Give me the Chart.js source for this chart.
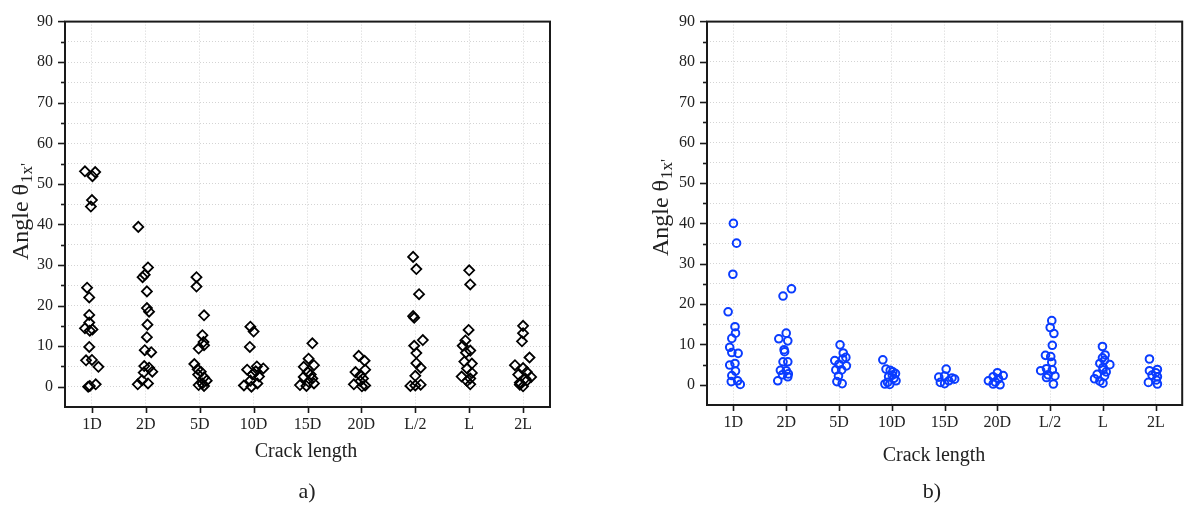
<!DOCTYPE html>
<html>
<head>
<meta charset="utf-8">
<script src="https://cdn.jsdelivr.net/npm/chart.js@4.4.1/dist/chart.umd.min.js"></script>
<style>
  body { margin: 0; background: #fff; }
  .panel { position: absolute; top: 0; width: 594px; height: 507px; }
</style>
</head>
<body>
<div class="panel" style="left:0"><canvas id="chartA" width="594" height="507"></canvas></div>
<div class="panel" style="left:594px"><canvas id="chartB" width="594" height="507"></canvas></div>
<script>
var categories = ['1D', '2D', '5D', '10D', '15D', '20D', 'L/2', 'L', '2L'];
var yTickValues = [0, 10, 20, 30, 40, 50, 60, 70, 80, 90];

// panel a) angle values per crack length
var leftValues = [
  [53.1, 52.9, 51.9, 46.0, 44.4, 24.4, 22.0, 17.7, 15.8, 14.4, 14.1, 13.8, 9.8, 6.5, 6.6, 4.9, 0.2, 0.0, 0.6],
  [39.4, 29.4, 27.6, 27.0, 23.5, 19.4, 18.5, 15.3, 12.2, 9.0, 8.5, 5.1, 4.7, 3.7, 3.5, 1.6, 0.6, 0.8],
  [27.0, 24.7, 17.6, 12.7, 11.0, 10.2, 9.4, 5.6, 4.3, 3.7, 3.0, 2.3, 1.5, 0.4, 0.2, 0.8],
  [14.8, 13.6, 9.8, 5.0, 4.5, 4.2, 3.8, 3.0, 2.5, 1.5, 0.8, 0.3, 0.0],
  [10.7, 6.9, 5.3, 4.9, 3.6, 3.0, 2.4, 2.0, 1.2, 0.8, 0.4, 0.2],
  [7.6, 6.4, 4.2, 3.6, 2.8, 2.0, 1.4, 0.6, 0.3, 0.1],
  [32.0, 29.0, 22.8, 17.4, 17.0, 11.5, 10.1, 8.3, 5.8, 4.7, 2.7, 0.2, 0.3, 0.5],
  [28.7, 25.2, 14.0, 11.4, 10.1, 8.9, 8.4, 6.2, 5.7, 4.5, 3.4, 2.5, 2.0, 1.4, 0.6],
  [15.0, 13.2, 11.2, 7.2, 5.3, 4.6, 3.6, 3.0, 2.4, 2.0, 1.5, 1.0, 0.5, 0.1]
];
// horizontal scatter of each point around its category (category units)
var leftJitter = [
  [-0.13, 0.06, 0.01, 0, -0.02, -0.09, -0.05, -0.05, -0.05, -0.13, 0.01, -0.04, -0.05, -0.11, 0.0, 0.12, -0.04, -0.07, 0.07],
  [-0.14, 0.04, -0.02, -0.06, 0.02, 0.02, 0.06, 0.03, 0.02, -0.02, 0.1, -0.03, 0.06, 0.12, -0.04, -0.07, -0.15, 0.04],
  [-0.06, -0.06, 0.08, 0.05, 0.07, 0.08, -0.02, -0.1, -0.04, 0.02, -0.03, 0.08, 0.13, -0.02, 0.08, 0.05],
  [-0.06, 0, -0.07, 0.06, 0.18, -0.12, 0.04, -0.02, 0.1, -0.06, 0.07, -0.18, -0.04],
  [0.09, 0.02, 0.12, -0.07, 0, 0.06, -0.07, 0.09, 0.02, 0.12, -0.14, -0.02],
  [-0.05, 0.06, 0.07, -0.11, -0.02, 0.03, -0.02, -0.14, 0.07, 0.01],
  [-0.04, 0.02, 0.07, -0.04, -0.02, 0.14, -0.02, 0.02, 0.02, 0.1, 0, -0.09, 0, 0.1],
  [0, 0.02, -0.01, -0.07, -0.12, 0.02, -0.06, -0.09, 0.05, -0.04, 0.05, -0.14, 0.02, -0.04, 0.02],
  [0, 0, -0.02, 0.12, -0.15, 0, 0.07, -0.09, 0.15, 0.04, 0.07, -0.06, -0.06, 0]
];

// panel b) angle values per crack length
var rightValues = [
  [40.0, 35.1, 27.4, 18.1, 14.4, 12.8, 11.5, 9.3, 8.0, 7.8, 5.3, 4.9, 3.4, 2.3, 1.0, 0.8, 0.1],
  [23.8, 22.0, 12.8, 11.4, 10.9, 8.7, 8.2, 5.7, 5.7, 3.6, 3.5, 2.7, 2.5, 2.0, 1.0],
  [9.9, 7.9, 6.8, 6.4, 6.0, 5.1, 4.7, 3.7, 3.7, 2.2, 0.8, 0.3],
  [6.2, 3.9, 3.6, 3.2, 2.8, 2.4, 2.0, 1.6, 1.0, 0.6, 0.2, 0.1],
  [3.9, 2.2, 1.9, 1.7, 1.4, 1.0, 0.6, 0.3],
  [3.0, 2.3, 2.0, 1.5, 1.0, 0.7, 0.2, 0.0],
  [15.9, 14.2, 12.7, 9.8, 7.3, 7.0, 5.6, 4.0, 3.7, 3.5, 2.5, 2.2, 1.8, 0.2],
  [9.5, 7.4, 6.7, 6.1, 5.3, 5.0, 4.3, 3.7, 3.2, 2.6, 2.2, 1.5, 0.9, 0.4],
  [6.4, 3.8, 3.5, 3.0, 2.4, 2.0, 1.2, 0.6, 0.2]
];
var rightJitter = [
  [0, 0.06, -0.01, -0.1, 0.03, 0.04, -0.03, -0.07, -0.03, 0.09, 0.03, -0.07, 0.04, -0.03, 0.08, -0.04, 0.13],
  [0.1, -0.06, 0, -0.14, 0.03, -0.04, -0.03, -0.06, 0.03, -0.11, 0, 0.04, -0.07, 0.03, -0.16],
  [0.02, 0.08, 0.13, 0.07, -0.08, 0, 0.14, -0.06, 0.05, -0.01, -0.04, 0.06],
  [-0.17, -0.11, -0.03, 0.02, 0.07, 0.01, -0.06, 0.04, 0.08, -0.08, -0.13, -0.04],
  [0.03, 0, -0.11, 0.14, 0.19, 0.08, -0.08, 0],
  [0, 0.11, -0.08, 0.02, -0.17, -0.04, -0.08, 0.05],
  [0.03, 0, 0.07, 0.04, -0.09, 0.01, 0.03, -0.07, 0.04, -0.18, -0.04, 0.09, -0.07, 0.06],
  [-0.01, 0.04, -0.01, 0.03, -0.06, 0.13, 0, 0, 0.06, -0.11, 0.03, -0.16, -0.06, 0],
  [-0.12, 0.03, -0.12, 0, -0.07, 0.03, 0.01, -0.14, 0.03]
];

var SERIF = "'Liberation Serif', 'Times New Roman', serif";

function toPoints(values, jitter) {
  var pts = [];
  for (var i = 0; i < values.length; i++) {
    for (var j = 0; j < values[i].length; j++) {
      pts.push({ x: i + jitter[i][j], y: values[i][j] });
    }
  }
  return pts;
}

// frame, tick marks and extra labels drawn like the original figure
var decorPlugin = {
  id: 'decor',
  afterDraw: function (chart, args, opts) {
    var ctx = chart.ctx;
    var a = chart.chartArea;
    var ys = chart.scales.y;
    var xs = chart.scales.x;
    ctx.save();
    ctx.strokeStyle = '#1a1a1a';
    ctx.lineWidth = 1.6;
    for (var v = 0; v < 90; v += 5) {
      var py = Math.round(ys.getPixelForValue(v)) + 0.5;
      var len = v % 10 === 0 ? 7 : 4;
      ctx.beginPath();
      ctx.moveTo(a.left - len, py);
      ctx.lineTo(a.left, py);
      ctx.stroke();
    }
    ctx.beginPath();
    ctx.moveTo(a.left - 7, a.top);
    ctx.lineTo(a.left, a.top);
    ctx.stroke();
    for (var i = 0; i < categories.length; i++) {
      var px = Math.round(xs.getPixelForValue(i)) + 0.5;
      ctx.beginPath();
      ctx.moveTo(px, a.bottom);
      ctx.lineTo(px, a.bottom + 6);
      ctx.stroke();
    }
    ctx.lineWidth = 2;
    ctx.strokeRect(a.left, a.top, a.right - a.left, a.bottom - a.top);

    // y title with subscript
    ctx.fillStyle = '#222';
    ctx.translate(opts.yTitleX, opts.yTitleY);
    ctx.rotate(-Math.PI / 2);
    ctx.font = '24px ' + SERIF;
    var main = 'Angle \u03b8';
    var mw = ctx.measureText(main).width;
    ctx.font = '17px ' + SERIF;
    var sw = ctx.measureText("1x'").width;
    var start = -(mw + sw) / 2;
    ctx.textBaseline = 'middle';
    ctx.textAlign = 'left';
    ctx.font = '24px ' + SERIF;
    ctx.fillText(main, start, 0);
    ctx.font = '17px ' + SERIF;
    ctx.fillText("1x'", start + mw + 1, 6);
    ctx.setTransform(1, 0, 0, 1, 0, 0);

    ctx.textAlign = 'center';
    ctx.textBaseline = 'middle';
    for (var k = 0; k < opts.texts.length; k++) {
      var t = opts.texts[k];
      ctx.font = t.size + 'px ' + SERIF;
      ctx.fillText(t.text, t.x, t.y);
    }
    ctx.restore();
  }
};

function makeChart(id, points, style) {
  return new Chart(document.getElementById(id), {
    type: 'scatter',
    data: {
      datasets: [{
        data: points,
        pointStyle: style.pointStyle,
        pointRadius: style.radius,
        pointBorderWidth: style.borderWidth,
        borderColor: style.color,
        backgroundColor: 'rgba(255,255,255,0)',
        pointHoverRadius: style.radius
      }]
    },
    options: {
      responsive: false,
      animation: false,
      layout: { padding: style.padding },
      plugins: {
        legend: { display: false },
        tooltip: { enabled: false },
        decor: { yTitleX: style.yTitleX, yTitleY: style.yTitleY, texts: style.texts }
      },
      scales: {
        x: {
          type: 'linear',
          min: -0.5,
          max: 8.5,
          afterBuildTicks: function (scale) {
            scale.ticks = categories.map(function (c, i) { return { value: i }; });
          },
          afterFit: function (scale) { scale.height = style.xHeight; },
          grid: { color: '#d4d4d4', lineWidth: 1, drawTicks: false },
          border: { display: false, dash: [1, 2] },
          ticks: {
            autoSkip: false,
            padding: 8,
            color: '#222',
            font: { family: SERIF, size: 16 },
            maxRotation: 0,
            callback: function (v) { return categories[v]; }
          }
        },
        y: {
          min: -5,
          max: 90,
          afterBuildTicks: function (scale) {
            var t = [];
            for (var v = -5; v <= 90; v += 5) t.push({ value: v });
            scale.ticks = t;
          },
          afterFit: function (scale) { scale.width = style.yWidth; },
          grid: { color: '#d4d4d4', lineWidth: 1, drawTicks: false },
          border: { display: false, dash: [1, 2] },
          ticks: {
            autoSkip: false,
            padding: 12,
            color: '#222',
            font: { family: SERIF, size: 16 },
            callback: function (v) { return yTickValues.indexOf(v) >= 0 ? String(v) : ''; }
          }
        }
      }
    },
    plugins: [decorPlugin]
  });
}

makeChart('chartA', toPoints(leftValues, leftJitter), {
  pointStyle: 'rectRot', radius: 5, borderWidth: 1.8, color: '#000',
  padding: { top: 15, right: 44, left: 0, bottom: 0 },
  yWidth: 65, xHeight: 100,
  yTitleX: 22, yTitleY: 212,
  texts: [{ text: 'Crack length', x: 306, y: 452, size: 20 }, { text: 'a)', x: 307, y: 492, size: 22 }]
});

makeChart('chartB', toPoints(rightValues, rightJitter), {
  pointStyle: 'circle', radius: 3.8, borderWidth: 2, color: '#0a3cff',
  padding: { top: 20, right: 5, left: 0, bottom: 0 },
  yWidth: 113, xHeight: 102,
  yTitleX: 68, yTitleY: 208,
  texts: [{ text: 'Crack length', x: 340, y: 456, size: 20 }, { text: 'b)', x: 338, y: 492, size: 22 }]
});
</script>
</body>
</html>
